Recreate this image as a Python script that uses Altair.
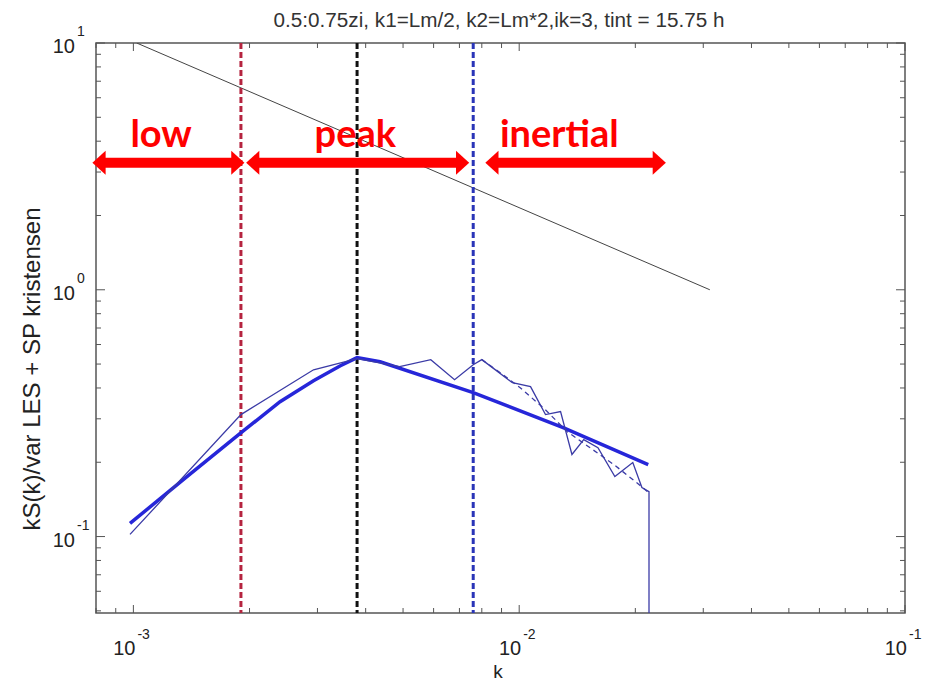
import altair as alt
import pandas as pd

TITLE = "0.5:0.75zi, k1=Lm/2, k2=Lm*2,ik=3, tint = 15.75 h"
X_TITLE = "k"
Y_TITLE = "kS(k)/var LES + SP kristensen"

# LES spectrum (thin solid line), ends with a drop off the bottom
les_k = [0.00098, 0.0019, 0.00293, 0.0038, 0.0049, 0.0059, 0.0068, 0.0076, 0.0080,
         0.0088, 0.0096, 0.0107, 0.0117, 0.0128, 0.0137, 0.0147, 0.0160, 0.0177,
         0.0197, 0.0208, 0.0217, 0.0217]
les_s = [0.102, 0.312, 0.474, 0.526, 0.488, 0.521, 0.432, 0.497, 0.521,
         0.466, 0.420, 0.405, 0.312, 0.321, 0.215, 0.247, 0.229, 0.175,
         0.1995, 0.158, 0.152, 0.01]

# smoothed spectrum (thin dashed line) in the inertial range
dash_k = [0.0080, 0.00893, 0.01006, 0.01168, 0.01332, 0.01527, 0.01773, 0.02058, 0.0215]
dash_s = [0.521, 0.461, 0.401, 0.327, 0.266, 0.229, 0.194, 0.161, 0.152]

# Kristensen fit (thick line)
fit_k = [0.00098, 0.001364, 0.001916, 0.0024, 0.00293, 0.00344, 0.0038, 0.00436,
         0.0076, 0.0130, 0.0216]
fit_s = [0.113, 0.173, 0.266, 0.352, 0.428, 0.492, 0.531, 0.511,
         0.383, 0.276, 0.1956]

# -2/3 reference slope line
ref_k = [0.00102, 0.0312]
ref_s = [10.0, 1.0]

# vertical dashed markers
vline_k = [0.0019, 0.0038, 0.0076]
vline_c = ["#b5243f", "#111111", "#2a35b8"]

# range arrows and labels
arrow_from = [0.000783, 0.00196, 0.00817]
arrow_to = [0.00194, 0.00742, 0.0240]
arrow_y = 3.27
range_names = ["low", "peak", "inertial"]
range_label_k = [0.00118, 0.00376, 0.0127]
range_label_y = 3.8

# ticks
x_major = [0.001, 0.01, 0.1]
x_exp = ["-3", "-2", "-1"]
x_minor = [0.0008, 0.0009, 0.002, 0.003, 0.004, 0.005, 0.006, 0.007, 0.008, 0.009,
           0.02, 0.03, 0.04, 0.05, 0.06, 0.07, 0.08, 0.09]
y_major = [0.1, 1.0, 10.0]
y_exp = ["-1", "0", "1"]
y_minor = [0.05, 0.06, 0.07, 0.08, 0.09, 0.2, 0.3, 0.4, 0.5, 0.6, 0.7, 0.8, 0.9,
           2, 3, 4, 5, 6, 7, 8, 9]

W, H = 809, 570
FONT = "Liberation Sans"
RED = "#ff0000"
BLUE = "#2626d9"
NAVY = "#3b3ba6"

xs = alt.Scale(type="log", domain=[0.0008, 0.1])
ys = alt.Scale(type="log", domain=[0.049, 10])

def X(field="k"):
    return alt.X(f"{field}:Q", scale=xs, axis=None)

def Y(field="s"):
    return alt.Y(f"{field}:Q", scale=ys, axis=None)

les_df = pd.DataFrame({"k": les_k, "s": les_s, "i": range(len(les_k))})
dash_df = pd.DataFrame({"k": dash_k, "s": dash_s, "i": range(len(dash_k))})
fit_df = pd.DataFrame({"k": fit_k, "s": fit_s, "i": range(len(fit_k))})
ref_df = pd.DataFrame({"k": ref_k, "s": ref_s})
vl_df = pd.DataFrame({"k": vline_k, "c": vline_c})
arr_df = pd.DataFrame({"k": [a * 1.06 for a in arrow_from], "k2": [b / 1.06 for b in arrow_to],
                       "s": [arrow_y] * 3})
left_df = pd.DataFrame({"k": arrow_from, "s": [arrow_y] * 3})
right_df = pd.DataFrame({"k": arrow_to, "s": [arrow_y] * 3})
lab_df = pd.DataFrame({"k": range_label_k, "s": [range_label_y] * 3, "t": range_names})
xt_df = pd.DataFrame({"k": x_major, "e": x_exp})
yt_df = pd.DataFrame({"s": y_major, "e": y_exp})
xmin_df = pd.DataFrame({"k": x_minor})
ymin_df = pd.DataFrame({"s": y_minor})
xtitle_df = pd.DataFrame({"t": [X_TITLE]})
ytitle_df = pd.DataFrame({"t": [Y_TITLE]})
title_df = pd.DataFrame({"t": [TITLE]})

ref_line = alt.Chart(ref_df).mark_line(color="#444444", strokeWidth=1, clip=True).encode(
    x=X(), y=Y())

vlines = alt.Chart(vl_df).mark_rule(strokeWidth=3, strokeDash=[6, 3]).encode(
    x=X(), color=alt.Color("c:N", scale=None))

fit = alt.Chart(fit_df).mark_line(color=BLUE, strokeWidth=3.5, clip=True).encode(
    x=X(), y=Y(), order="i:Q")
les = alt.Chart(les_df).mark_line(color=NAVY, strokeWidth=1.3, clip=True).encode(
    x=X(), y=Y(), order="i:Q")
dash = alt.Chart(dash_df).mark_line(color=NAVY, strokeWidth=1.3, strokeDash=[5, 4], clip=True).encode(
    x=X(), y=Y(), order="i:Q")

shafts = alt.Chart(arr_df).mark_rule(color=RED, strokeWidth=10, strokeCap="butt").encode(
    x=X(), x2="k2:Q", y=Y())
heads_l = alt.Chart(left_df).mark_point(shape="M0,0L1.1,-1L1.1,1Z", size=576, filled=True,
                                        color=RED, opacity=1, strokeWidth=0).encode(x=X(), y=Y())
heads_r = alt.Chart(right_df).mark_point(shape="M0,0L-1.1,-1L-1.1,1Z", size=576, filled=True,
                                         color=RED, opacity=1, strokeWidth=0).encode(x=X(), y=Y())
labels = alt.Chart(lab_df).mark_text(font="Lato", fontWeight="bold", fontSize=38, color=RED,
                                     align="center", baseline="alphabetic").encode(
    x=X(), y=Y(), text="t:N")

tick_col = "#555555"
xmaj_b = alt.Chart(xt_df).mark_rule(color=tick_col, strokeWidth=1).encode(
    x=X(), y=alt.value(H), y2=alt.value(H - 8))
xmaj_t = alt.Chart(xt_df).mark_rule(color=tick_col, strokeWidth=1).encode(
    x=X(), y=alt.value(0), y2=alt.value(8))
xmin_b = alt.Chart(xmin_df).mark_rule(color=tick_col, strokeWidth=1).encode(
    x=X(), y=alt.value(H), y2=alt.value(H - 5))
xmin_t = alt.Chart(xmin_df).mark_rule(color=tick_col, strokeWidth=1).encode(
    x=X(), y=alt.value(0), y2=alt.value(5))
ymaj_l = alt.Chart(yt_df).mark_rule(color=tick_col, strokeWidth=1).encode(
    y=Y(), x=alt.value(0), x2=alt.value(9))
ymaj_r = alt.Chart(yt_df).mark_rule(color=tick_col, strokeWidth=1).encode(
    y=Y(), x=alt.value(W), x2=alt.value(W - 9))
ymin_l = alt.Chart(ymin_df).mark_rule(color=tick_col, strokeWidth=1).encode(
    y=Y(), x=alt.value(0), x2=alt.value(5))
ymin_r = alt.Chart(ymin_df).mark_rule(color=tick_col, strokeWidth=1).encode(
    y=Y(), x=alt.value(W), x2=alt.value(W - 5))

lab_col = "#222222"
xl_base = alt.Chart(xt_df).mark_text(font=FONT, fontSize=20, color=lab_col, align="right",
                                     baseline="alphabetic", dx=2).encode(
    x=X(), y=alt.value(H + 42), text=alt.value("10"))
xl_exp = alt.Chart(xt_df).mark_text(font=FONT, fontSize=14, color=lab_col, align="left",
                                    baseline="alphabetic", dx=4).encode(
    x=X(), y=alt.value(H + 26), text="e:N")
yl_base = alt.Chart(yt_df).mark_text(font=FONT, fontSize=20, color=lab_col, align="right",
                                     baseline="alphabetic", dy=10).encode(
    y=Y(), x=alt.value(-21), text=alt.value("10"))
yl_exp = alt.Chart(yt_df).mark_text(font=FONT, fontSize=14, color=lab_col, align="left",
                                    baseline="alphabetic", dy=-7).encode(
    y=Y(), x=alt.value(-19), text="e:N")

x_title = alt.Chart(xtitle_df).mark_text(font=FONT, fontSize=19, color=lab_col, align="center",
                                         baseline="middle").encode(
    x=alt.value(402), y=alt.value(H + 59), text="t:N")
y_title = alt.Chart(ytitle_df).mark_text(font=FONT, fontSize=24, color=lab_col, align="center",
                                         baseline="middle", angle=270).encode(
    x=alt.value(-63), y=alt.value(326), text="t:N")
top_title = alt.Chart(title_df).mark_text(font=FONT, fontSize=20.7, color="#333333", align="center",
                                          baseline="alphabetic").encode(
    x=alt.value(403), y=alt.value(-16), text="t:N")

chart = alt.layer(
    ref_line, vlines, fit, les, dash,
    shafts, heads_l, heads_r, labels,
    xmaj_b, xmaj_t, xmin_b, xmin_t, ymaj_l, ymaj_r, ymin_l, ymin_r,
    xl_base, xl_exp, yl_base, yl_exp, x_title, y_title, top_title,
).properties(
    width=W, height=H,
    autosize=alt.AutoSizeParams(type="none"),
    padding={"left": 96, "top": 43, "right": 26, "bottom": 72},
    background="white",
).configure_view(stroke="#555555", strokeWidth=1.5)

chart.save("out.html", embed_options={"renderer": "svg", "actions": False})
